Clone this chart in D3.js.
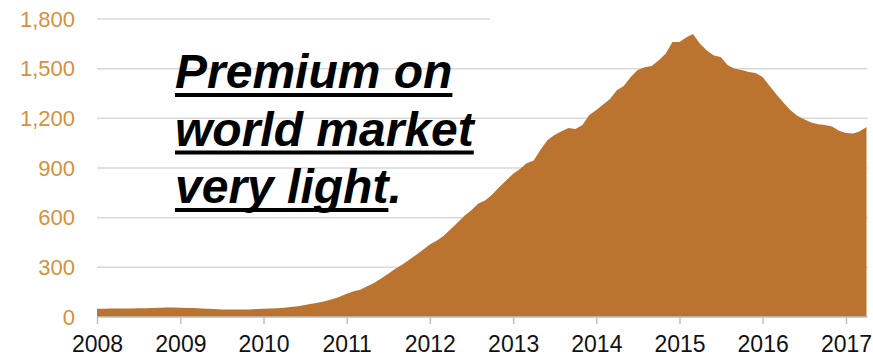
<!DOCTYPE html>
<html>
<head>
<meta charset="utf-8">
<script src="https://cdn.jsdelivr.net/npm/d3@7"></script>
<style>
  body { margin: 0; background: #fff; }
  svg { display: block; font-family: Arial, "Liberation Sans", sans-serif; }
</style>
</head>
<body>
<svg id="chart" width="873" height="357"></svg>
<script>
// monthly values, Jan 2008 .. Apr 2017
var v2008 = [50, 50, 51, 51, 52, 52, 53, 53, 54, 56, 57, 57];
var v2009 = [56, 55, 54, 52, 50, 48, 46, 45, 45, 45, 46, 48];
var v2010 = [50, 51, 53, 56, 60, 65, 72, 80, 88, 97, 108, 122];
var v2011 = [140, 155, 165, 185, 205, 232, 260, 290, 316, 345, 375, 405];
var v2012 = [438, 462, 490, 530, 570, 612, 645, 685, 705, 740, 785, 825];
var v2013 = [865, 895, 928, 945, 1010, 1069, 1099, 1122, 1142, 1135, 1160, 1220];
var v2014 = [1250, 1285, 1315, 1370, 1395, 1450, 1492, 1508, 1516, 1550, 1590, 1661];
var v2015 = [1661, 1690, 1709, 1650, 1610, 1580, 1570, 1520, 1500, 1492, 1480, 1474];
var v2016 = [1450, 1395, 1345, 1295, 1250, 1215, 1195, 1175, 1165, 1160, 1150, 1125];
var v2017 = [1111, 1108, 1120, 1148];

var years = [2008, 2009, 2010, 2011, 2012, 2013, 2014, 2015, 2016, 2017];
var yTicks = [0, 300, 600, 900, 1200, 1500, 1800];
var note = ["Premium on", "world market", "very light"];

var series = [v2008, v2009, v2010, v2011, v2012, v2013, v2014, v2015, v2016, v2017];
var data = [];
series.forEach(function (arr, i) {
    arr.forEach(function (val, m) {
        data.push({ date: new Date(years[i], m, 1), value: val });
    });
});

var svg = d3.select("#chart");

var x = d3.scaleTime()
    .domain([new Date(2008, 0, 1), new Date(2017, 0, 1)])
    .range([97, 846]);

var y = d3.scaleLinear()
    .domain([0, 1800])
    .range([317, 19]);

var xEnd = x(data[data.length - 1].date);

// gridlines (top one stops short, as in the original)
svg.append("g").selectAll("line")
    .data(yTicks.slice(1))
    .enter().append("line")
    .attr("x1", 97)
    .attr("x2", function (d) { return d === 1800 ? 490 : xEnd + 1; })
    .attr("y1", function (d) { return y(d); })
    .attr("y2", function (d) { return y(d); })
    .attr("stroke", "#d9d9d9")
    .attr("stroke-width", 1.5);

// area
var area = d3.area()
    .x(function (d) { return x(d.date); })
    .y0(y(0))
    .y1(function (d) { return y(d.value); });

svg.append("path")
    .datum(data)
    .attr("d", area)
    .attr("fill", "#bb742f");

// x axis
var xAxis = svg.append("g")
    .attr("transform", "translate(0," + y(0) + ")")
    .call(d3.axisBottom(x)
        .tickValues(years.map(function (yr) { return new Date(yr, 0, 1); }))
        .tickFormat(d3.timeFormat("%Y"))
        .tickSizeInner(7)
        .tickSizeOuter(0)
        .tickPadding(12));
xAxis.select(".domain").attr("stroke", "#bfbfbf").attr("stroke-width", 1.5)
    .attr("d", "M97,0H" + (xEnd + 1));
xAxis.selectAll(".tick line").attr("stroke", "#bfbfbf").attr("stroke-width", 1.5);
xAxis.selectAll(".tick text")
    .attr("font-size", 23)
    .attr("font-family", "Arial, 'Liberation Sans', sans-serif")
    .attr("fill", "#111");

// y axis labels
var yAxis = svg.append("g")
    .attr("transform", "translate(75,0)")
    .call(d3.axisLeft(y)
        .tickValues(yTicks)
        .tickFormat(d3.format(","))
        .tickSize(0)
        .tickPadding(0));
yAxis.select(".domain").remove();
yAxis.selectAll(".tick text")
    .attr("font-size", 22)
    .attr("font-family", "Arial, 'Liberation Sans', sans-serif")
    .attr("fill", "#d4913f");

// annotation, underlined by hand so the rule is thick like the original
var noteG = svg.append("g");
note.forEach(function (line, i) {
    var by = 88 + i * 57.5;
    var t = noteG.append("text")
        .attr("x", 175)
        .attr("y", by)
        .attr("font-size", 48)
        .attr("font-weight", "bold")
        .attr("font-style", "italic")
        .attr("fill", "#000")
        .text(line);
    var w = t.node().getComputedTextLength();
    noteG.append("rect")
        .attr("x", 175)
        .attr("y", by + 5)
        .attr("width", w)
        .attr("height", 4)
        .attr("fill", "#000");
    if (i === note.length - 1) {
        noteG.append("text")
            .attr("x", 175 + w)
            .attr("y", by)
            .attr("font-size", 48)
            .attr("font-weight", "bold")
            .attr("font-style", "italic")
            .text(".");
    }
});
</script>
</body>
</html>
